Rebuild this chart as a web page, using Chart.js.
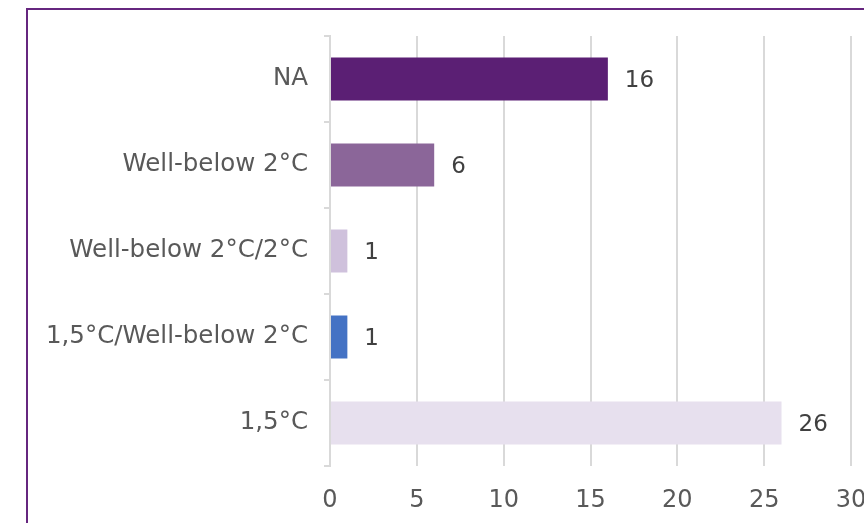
<!DOCTYPE html>
<html>
<head>
<meta charset="utf-8">
<script src="https://cdn.jsdelivr.net/npm/chart.js@4"></script>
<style>
  body { margin: 0; background: #fff; overflow: hidden; }
  #wrap { position: absolute; left: 0; top: 0; width: 864px; height: 523px; overflow: hidden; }
  #frame { position: absolute; left: 26px; top: 8px; width: 900px; height: 600px; border: 2px solid #66267f; }
  #box { position: absolute; left: 0; top: 0; width: 900px; height: 523px; }
</style>
</head>
<body>
<div id="wrap">
  <div id="frame"></div>
  <div id="box"><canvas id="grafico"></canvas></div>
</div>
<script>
// dados
const categorias = ['NA', 'Well-below 2°C', 'Well-below 2°C/2°C', '1,5°C/Well-below 2°C', '1,5°C'];
const valores = [16, 6, 1, 1, 26];
const cores = ['#5b1f74', '#8b6699', '#cfc1dc', '#4472c4', '#e7e0ee'];

// rotulos no fim das barras
const rotulos = {
    id: 'rotulos',
    afterDatasetsDraw(chart) {
        const ctx = chart.ctx;
        const meta = chart.getDatasetMeta(0);
        ctx.save();
        ctx.font = '23px "DejaVu Sans"';
        ctx.fillStyle = '#404040';
        ctx.textAlign = 'left';
        ctx.textBaseline = 'middle';
        meta.data.forEach(function(bar, i) {
            ctx.fillText(String(valores[i]), bar.x + 17, bar.y + 2);
        });
        ctx.restore();
    }
};

const config = {
    type: 'bar',
    data: {
        labels: categorias,
        datasets: [{
            data: valores,
            backgroundColor: cores,
            categoryPercentage: 1,
            barPercentage: 0.5
        }]
    },
    options: {
        indexAxis: 'y',
        responsive: false,
        animation: false,
        layout: { padding: { left: 0, right: 49, top: 36, bottom: 0 } },
        plugins: {
            legend: { display: false },
            tooltip: { enabled: false }
        },
        scales: {
            x: {
                min: 0,
                max: 30,
                ticks: {
                    stepSize: 5,
                    padding: 20,
                    color: '#595959',
                    font: { family: 'DejaVu Sans', size: 24 }
                },
                grid: { color: '#d9d9d9', lineWidth: 2, drawTicks: false },
                border: { display: false },
                afterFit: function(s) { s.height = 57; }
            },
            y: {
                ticks: {
                    padding: 16,
                    color: '#595959',
                    font: { family: 'DejaVu Sans', size: 24.5 }
                },
                grid: { offset: true, drawOnChartArea: false, drawTicks: true, tickLength: 6, color: '#d9d9d9', lineWidth: 2 },
                border: { display: true, color: '#d9d9d9', width: 2 },
                afterFit: function(s) { s.width = 330; }
            }
        }
    },
    plugins: [rotulos]
};

document.addEventListener('DOMContentLoaded', function() {
    const canvas = document.getElementById('grafico');
    canvas.width = 900;
    canvas.height = 523;
    canvas.style.width = '900px';
    canvas.style.height = '523px';
    new Chart(canvas.getContext('2d'), config);
});
</script>
</body>
</html>
